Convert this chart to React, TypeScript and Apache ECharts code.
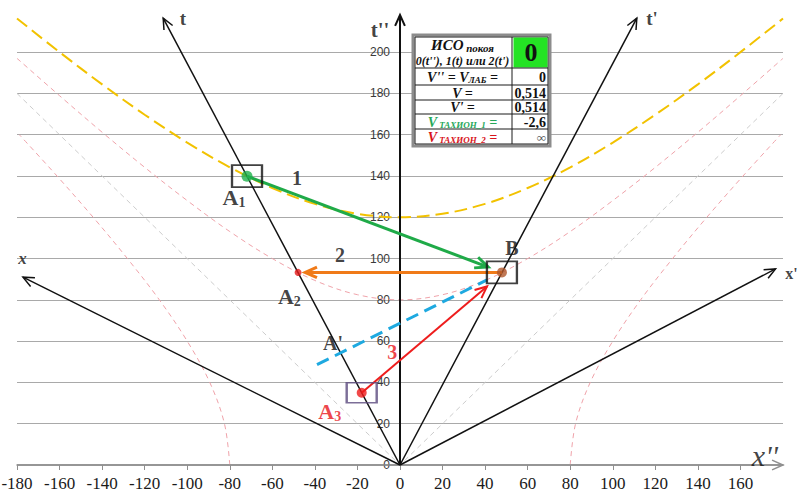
import React, { useEffect, useRef } from "react";
import * as echarts from "echarts";

// ---------- data ----------
const X_MIN = -180;
const X_MAX = 180;
const T_MAX = 218;
const TICK_STEP = 20;

// time-like hyperbolas (x, t) sampled every 20 units of x
const hyperX = [-180, -160, -140, -120, -100, -80, -60, -40, -20, 0, 20, 40, 60, 80, 100, 120, 140, 160, 180];
const yellowT = [216.3, 200, 184.4, 169.7, 156.2, 144.2, 134.2, 126.5, 121.7, 120, 121.7, 126.5, 134.2, 144.2, 156.2, 169.7, 184.4, 200, 216.3];
const pinkT = [197, 178.9, 161.2, 144.2, 128.1, 113.1, 100, 89.4, 82.5, 80, 82.5, 89.4, 100, 113.1, 128.1, 144.2, 161.2, 178.9, 197];

// space-like hyperbola branches (x, t)
const spaceT = [0, 20, 40, 60, 80, 100, 120, 140, 160];
const spaceRightX = [80, 82.5, 89.4, 100, 113.1, 128.1, 144.2, 161.2, 178.9];
const spaceLeftX = [-80, -82.5, -89.4, -100, -113.1, -128.1, -144.2, -161.2, -178.9];

// light cone
const coneX = [-180, 0, 180];
const coneT = [180, 0, 180];

// moving-frame axes: [x1, t1, x2, t2]
const frameAxes = [
  [0, 0, -111.3, 216.5], // t
  [0, 0, 111.3, 216.5], // t'
  [0, 0, -177.2, 91], // x
  [0, 0, 176.5, 95], // x'
];
const restAxes = [
  [0, 0, 0, 218], // t''
];
const groundAxis = [[-180, 0, 180, 0]]; // x''

// events
const pointNames = ["A1", "A2", "B", "A3"];
const pointX = [-71.9, -47.9, 47.9, -18];
const pointT = [139.9, 93.3, 93.3, 35];

// signals: [x1, t1, x2, t2]
const greenSignal = [[-71.9, 139.9, 41.4, 95.9]];
const orangeSignal = [[47.9, 93.3, -44.6, 93.3]];
const redSignal = [[-18, 35, 40.9, 86.5]];
const blueSimultaneity = [[-39, 48.6, 40.9, 89.7]];

// text labels placed in data space
const labelNames = ["1", "2", "3", "A1", "A2", "A3", "A'", "B", "t", "t'", "t''", "x", "x'", "x''"];
const labelX = [-48.4, -28.2, -3.6, -78, -52, -33, -31.5, 52.6, -102, 118.4, -9.4, -177.4, 184, 171.5];
const labelT = [139, 101.7, 54.6, 129.8, 81.4, 25.7, 59, 105, 216.5, 216.5, 210.7, 100, 93, 4.8];

// table texts
const tableHeader = ["ИСО", "покоя", "0(t''), 1(t) или 2(t')"];
const tableMode = "0";
const tableValues = ["0", "0,514", "0,514", "-2,6", "∞"];

// ---------- helpers ----------
const SERIF = "'Liberation Serif', 'Times New Roman', serif";
const SANS = "'Liberation Sans', Arial, sans-serif";

const GRID_LEFT = 17;
const GRID_RIGHT = 18;
const CHART_W = 801;

function zip(xs: number[], ts: number[]) {
  return xs.map((x, i) => [x, ts[i]]);
}

function arrowSeries(data: number[][], color: string, width: number, dash: number[] | null, head: number, z: number) {
  return {
    type: "custom",
    z,
    clip: false,
    silent: true,
    encode: { x: [0, 2], y: [1, 3] },
    data,
    renderItem: (_params: any, api: any) => {
      const p1 = api.coord([api.value(0), api.value(1)]);
      const p2 = api.coord([api.value(2), api.value(3)]);
      const children: any[] = [
        {
          type: "line",
          shape: { x1: p1[0], y1: p1[1], x2: p2[0], y2: p2[1] },
          style: { stroke: color, lineWidth: width, lineDash: dash || undefined, fill: null },
        },
      ];
      if (head > 0) {
        const a = Math.atan2(p2[1] - p1[1], p2[0] - p1[0]);
        const phi = 0.42;
        children.push({
          type: "polyline",
          shape: {
            points: [
              [p2[0] - head * Math.cos(a - phi), p2[1] - head * Math.sin(a - phi)],
              [p2[0], p2[1]],
              [p2[0] - head * Math.cos(a + phi), p2[1] - head * Math.sin(a + phi)],
            ],
          },
          style: { stroke: color, lineWidth: width, fill: null },
        });
      }
      return { type: "group", children };
    },
  };
}

function labelStyle(name: string) {
  const rich: any = {
    b: { fontFamily: SERIF, fontWeight: "bold", fontSize: 22 },
    s: { fontFamily: SERIF, fontWeight: "bold", fontSize: 14, padding: [10, 0, 0, 0] },
  };
  let formatter = name;
  let color = "#111";
  let fontSize = 20;
  let fontStyle = "normal";
  let fontWeight = "bold";
  if (name === "A1" || name === "A2" || name === "A3") {
    formatter = `{b|A}{s|${name[1]}}`;
  }
  if (name === "3" || name === "A3") color = "#e8141b";
  if (name === "t" || name === "t'") fontSize = 19;
  if (name === "t''") fontSize = 21;
  if (name === "x") {
    fontSize = 17;
    fontStyle = "italic";
  }
  if (name === "x'") fontSize = 16;
  if (name === "x''") {
    fontSize = 30;
    fontStyle = "italic";
    fontWeight = "normal";
  }
  rich.b.color = color;
  rich.s.color = color;
  return {
    show: true,
    position: "inside",
    formatter,
    rich,
    fontFamily: SERIF,
    fontWeight,
    color,
    fontSize,
    fontStyle,
  };
}

function buildTable() {
  const L = 413, T = 35, W = 137, H = 111;
  const colX = 512;
  const rows = [68, 85, 100, 114, 129];
  const els: any[] = [];
  els.push({ type: "rect", shape: { x: L, y: T, width: W, height: H }, style: { fill: "#fff", stroke: "#8c8c8c", lineWidth: 3 }, z: 100 });
  els.push({ type: "rect", shape: { x: L + 2, y: T + 2, width: W - 4, height: H - 4 }, style: { fill: "none", stroke: "#1a1a1a", lineWidth: 1 }, z: 101 });
  els.push({ type: "rect", shape: { x: colX + 1.5, y: T + 2.5, width: L + W - colX - 4, height: rows[0] - T - 3 }, style: { fill: "#24e324" }, z: 101 });
  rows.forEach((y) => {
    els.push({ type: "line", shape: { x1: L + 2, y1: y, x2: L + W - 2, y2: y }, style: { stroke: "#1a1a1a", lineWidth: 1 }, z: 102 });
  });
  els.push({ type: "line", shape: { x1: colX, y1: T + 2, x2: colX, y2: T + H - 2 }, style: { stroke: "#1a1a1a", lineWidth: 1 }, z: 102 });

  const mid = (L + colX) / 2;
  const rich = {
    a: { fontFamily: SERIF, fontWeight: "bold", fontStyle: "italic", fontSize: 15, fill: "#111" },
    s: { fontFamily: SERIF, fontWeight: "bold", fontStyle: "italic", fontSize: 11, fill: "#111", padding: [5, 0, 0, 0] },
  };
  els.push({
    type: "text", z: 103, x: mid, y: 45,
    style: { text: `{a|${tableHeader[0]}}{s| ${tableHeader[1]}}`, rich, align: "center", verticalAlign: "middle" },
  });
  els.push({
    type: "text", z: 103, x: mid, y: 61,
    style: { text: tableHeader[2], fontFamily: SERIF, fontWeight: "bold", fontStyle: "italic", fontSize: 12, fill: "#111", align: "center", verticalAlign: "middle" },
  });
  els.push({
    type: "text", z: 103, x: (colX + L + W) / 2, y: 52,
    style: { text: tableMode, fontFamily: SERIF, fontWeight: "bold", fontSize: 26, fill: "#111", align: "center", verticalAlign: "middle" },
  });

  const rowLabels = [
    { t: "{v|V'' = V}{s|ЛАБ}{v| =}", c: "#111" },
    { t: "{v|V =}", c: "#111" },
    { t: "{v|V' =}", c: "#111" },
    { t: "{v|V}{s| ТАХИОН_1}{v| =}", c: "#27a85a" },
    { t: "{v|V}{s| ТАХИОН_2}{v| =}", c: "#d8141b" },
  ];
  const rowTops = [rows[0], rows[1], rows[2], rows[3], rows[4]];
  const rowBottoms = [rows[1], rows[2], rows[3], rows[4], T + H - 2];
  rowLabels.forEach((r, i) => {
    const cy = (rowTops[i] + rowBottoms[i]) / 2 + 0.5;
    els.push({
      type: "text", z: 103, x: mid, y: cy,
      style: {
        text: r.t,
        rich: {
          v: { fontFamily: SERIF, fontWeight: "bold", fontStyle: "italic", fontSize: 14, fill: r.c },
          s: { fontFamily: SERIF, fontWeight: "bold", fontStyle: "italic", fontSize: 9, fill: r.c, padding: [5, 0, 0, 0] },
        },
        align: "center", verticalAlign: "middle",
      },
    });
    els.push({
      type: "text", z: 103, x: L + W - 4, y: cy,
      style: {
        text: tableValues[i], fontFamily: SERIF, fontWeight: "bold", fontSize: i === 4 ? 13 : 14,
        fill: i === 4 ? "#555" : "#111", align: "right", verticalAlign: "middle",
      },
    });
  });
  return els;
}

export default function App() {
  const ref = useRef<HTMLDivElement>(null);

  useEffect(() => {
    if (!ref.current) return;
    const chart = echarts.init(ref.current, undefined, { renderer: "svg" });

    const dashed = (color: string, width: number, dash: number[]) => ({
      type: "line",
      smooth: 0.35,
      symbol: "none",
      silent: true,
      clip: false,
      z: 3,
      lineStyle: { color, width, type: dash },
    });

    // place the t'' axis (and its labels) at x = 0
    const gridW = CHART_W - GRID_LEFT - GRID_RIGHT;
    const yAxisOffset = -((0 - X_MIN) / (X_MAX - X_MIN)) * gridW;

    const option: any = {
      animation: false,
      backgroundColor: "#ffffff",
      grid: { left: GRID_LEFT, right: GRID_RIGHT, top: 15, bottom: 31, containLabel: false, outerBoundsMode: "none" },
      xAxis: {
        type: "value",
        min: X_MIN,
        max: X_MAX,
        interval: TICK_STEP,
        axisLine: { show: true, onZero: false, lineStyle: { color: "#8f8f8f", width: 1.5 } },
        axisTick: { show: true, length: 5, lineStyle: { color: "#8f8f8f" } },
        axisLabel: {
          show: true,
          showMaxLabel: false,
          margin: 10,
          fontFamily: SERIF,
          fontSize: 17,
          color: "#1a1a1a",
        },
        splitLine: { show: false },
      },
      yAxis: {
        type: "value",
        min: 0,
        max: T_MAX,
        interval: TICK_STEP,
        position: "left",
        offset: yAxisOffset,
        axisLine: { show: false, onZero: false },
        axisTick: { show: false },
        axisLabel: {
          show: true,
          showMaxLabel: false,
          margin: 10,
          fontFamily: SANS,
          fontSize: 12,
          color: "#3a3a3a",
        },
        splitLine: { show: true, showMaxLine: false, showMinLine: false, lineStyle: { color: "#a9a9a9", width: 1 } },
      },
      graphic: buildTable(),
      series: [
        // light cone
        { ...dashed("#cdcdcd", 1, [5, 4]), smooth: false, data: zip(coneX, coneT) },
        // space-like hyperbola branches
        { ...dashed("#f0a3aa", 1, [5, 4]), data: zip(spaceRightX, spaceT) },
        { ...dashed("#f0a3aa", 1, [5, 4]), data: zip(spaceLeftX, spaceT) },
        // time-like hyperbolas
        { ...dashed("#f0a3aa", 1, [5, 4]), data: zip(hyperX, pinkT) },
        { ...dashed("#f2c200", 2, [13, 6]), data: zip(hyperX, yellowT) },
        // axes
        arrowSeries(groundAxis, "#8f8f8f", 1.5, null, 12, 4),
        arrowSeries(restAxes, "#111", 2, null, 12, 5),
        arrowSeries(frameAxes, "#111", 1.5, null, 12, 5),
        // simultaneity line
        arrowSeries(blueSimultaneity, "#1ea9e0", 3, [13, 7], 0, 6),
        // signals
        arrowSeries(greenSignal, "#1faa48", 3, null, 14, 7),
        arrowSeries(orangeSignal, "#f07a18", 3, null, 13, 7),
        arrowSeries(redSignal, "#ee1c1c", 2, null, 13, 7),
        // event markers
        {
          type: "scatter",
          z: 9,
          silent: true,
          clip: false,
          data: pointNames.map((n, i) => {
            const colors: any = { A1: "#1fb24c", A2: "#e31b1b", B: "#b0582c", A3: "#ee1c1c" };
            const sizes: any = { A1: 11, A2: 7, B: 10, A3: 10 };
            return { name: n, value: [pointX[i], pointT[i]], symbolSize: sizes[n], itemStyle: { color: colors[n] } };
          }),
        },
        // frames around events
        {
          type: "scatter",
          z: 10,
          silent: true,
          clip: false,
          symbol: "rect",
          data: [0, 2, 3].map((i) => ({
            value: [pointX[i], pointT[i]],
            symbolSize: i === 3 ? [30, 20] : [30, 22],
            itemStyle: { color: "rgba(0,0,0,0)", borderColor: i === 3 ? "#5b4a7e" : "#111", borderWidth: 2 },
          })),
        },
        // text labels
        {
          type: "scatter",
          z: 12,
          silent: true,
          clip: false,
          symbolSize: 1,
          itemStyle: { color: "rgba(0,0,0,0)" },
          data: labelNames.map((n, i) => ({ value: [labelX[i], labelT[i]], label: labelStyle(n) })),
        },
      ],
    };

    chart.setOption(option);
    return () => chart.dispose();
  }, []);

  return (
    <div
      ref={ref}
      style={{ position: "absolute", left: 0, top: 0, width: 801, height: 496, background: "#fff" }}
    />
  );
}
